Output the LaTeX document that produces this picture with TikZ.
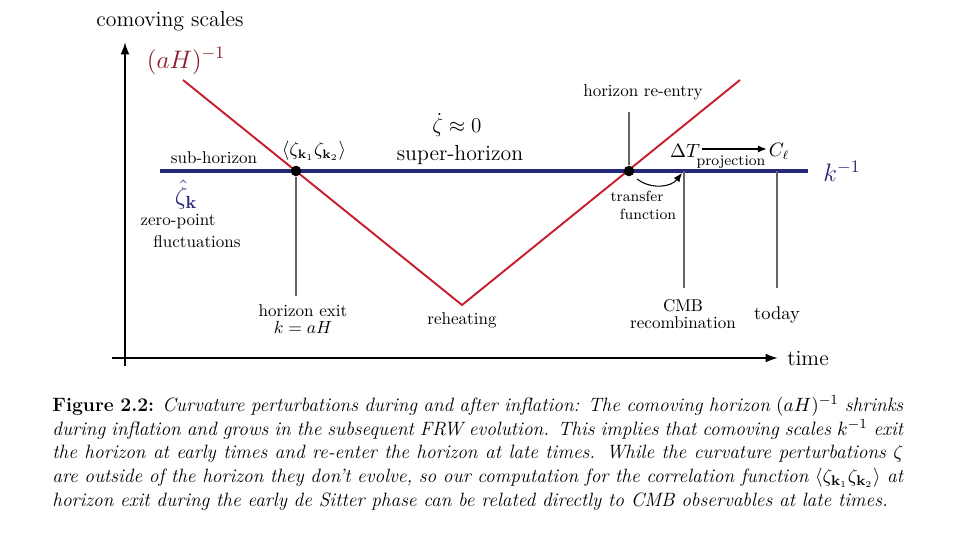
\documentclass[tikz,border=0pt]{standalone}
\usepackage{amsmath}
\usetikzlibrary{arrows.meta}
\definecolor{horizred}{RGB}{200,30,45}
\definecolor{labelred}{RGB}{140,25,35}
\definecolor{scaleblue}{RGB}{38,38,122}
\definecolor{markgray}{RGB}{100,100,100}
\tikzset{
  lbl/.style={font=\fontsize{9.7}{11}\selectfont,inner sep=1pt},
  tinylbl/.style={font=\fontsize{8.4}{10}\selectfont,inner sep=1pt},
  biglbl/.style={font=\fontsize{12.4}{14}\selectfont,inner sep=1pt},
  hugelbl/.style={font=\fontsize{14.5}{16}\selectfont,inner sep=1pt},
  axis/.style={line width=1.1pt,-{Latex[length=7pt,width=5pt]}},
  marker/.style={markgray,line width=0.8pt},
  dot/.style={circle,fill=black,inner sep=0pt,minimum size=6pt},
}
\begin{document}
\begin{tikzpicture}[x=0.02cm,y=-0.02cm]
  \useasboundingbox (0,0) rectangle (971,534);
  % axes
  \coordinate (yfoot) at (125,366);
  \coordinate (ytip) at (125,42);
  \coordinate (xfoot) at (112,358);
  \coordinate (xtip) at (778,358);
  \draw[axis] (yfoot) -- (ytip);
  \draw[axis] (xfoot) -- (xtip);
  \node[biglbl] (yname) at (170,21) {comoving scales};
  \node[biglbl] (xname) at (808,358) {time};

  % comoving horizon
  \coordinate (hstart) at (183,80);
  \coordinate (reheat) at (462,305);
  \coordinate (hend) at (740,80);
  \draw[horizred,line width=1.1pt] (hstart) -- (reheat) -- (hend);
  \node[hugelbl,labelred] (hlabel) at (186,61) {$(aH)^{-1}$};

  % comoving scale
  \coordinate (kstart) at (160,171);
  \coordinate (kend) at (808,171);
  \draw[scaleblue,line width=2pt] (kstart) -- (kend);
  \node[hugelbl,scaleblue] (klabel) at (842,171) {$k^{-1}$};

  % crossings
  \node[dot] (exit) at (296,171) {};
  \node[dot] (entry) at (629,171) {};
  \coordinate (exitfoot) at (296,296);
  \coordinate (entrytop) at (629,112);
  \coordinate (cmbfoot) at (684,288);
  \coordinate (cmbtop) at (684,171);
  \coordinate (todayfoot) at (777,288);
  \coordinate (todaytop) at (777,171);
  \draw[marker] (exit) -- (exitfoot);
  \draw[marker] (entry) -- (entrytop);
  \draw[marker] (cmbtop) -- (cmbfoot);
  \draw[marker] (todaytop) -- (todayfoot);

  % labels
  \node[lbl] (sub) at (214,158) {sub-horizon};
  \node[hugelbl,scaleblue] (zhat) at (186,195) {$\hat\zeta_{\mathbf{k}}$};
  \node[lbl] (zp) at (178,222) {zero-point};
  \node[lbl] (fl) at (197,242) {fluctuations};
  \node[lbl,font=\fontsize{10.5}{12}\selectfont] (corr) at (314,151) {$\langle\zeta_{\mathbf{k}_1}\zeta_{\mathbf{k}_2}\rangle$};
  \node[biglbl] (frozen) at (457,125) {$\dot\zeta\approx 0$};
  \node[biglbl] (super) at (460,155) {super-horizon};
  \node[lbl,align=center] (exitlbl) at (303,319) {horizon exit\\[-1pt]$k=aH$};
  \node[lbl] (rehlbl) at (462,320) {reheating};
  \node[lbl] (entrylbl) at (643,92) {horizon re-entry};
  \node[tinylbl] (tf1) at (637,196) {transfer};
  \node[tinylbl] (tf2) at (648,214) {function};
  \node[lbl,align=center,font=\fontsize{9.7}{10}\selectfont] (cmblbl) at (683,314) {CMB\\recombination};
  \node[lbl,font=\fontsize{10.5}{12}\selectfont] (todaylbl) at (777,315) {today};
  \node[lbl,font=\fontsize{10.5}{12}\selectfont] (dT) at (685,151) {$\Delta T$};
  \node[lbl,font=\fontsize{10.5}{12}\selectfont] (cl) at (779,151) {$C_\ell$};
  \coordinate (pstart) at (702,149);
  \draw[-{Latex[length=5pt,width=4pt]},line width=0.6pt] (pstart) -- (cl.west |- pstart);
  \node[tinylbl] (proj) at (731,162) {projection};
  \coordinate (tfstart) at (637,179);
  \coordinate (tfend) at (682,173);
  \draw[-{Latex[length=5pt,width=4pt]},line width=0.6pt] (tfstart) to[bend right=45] (tfend);

  % caption
  \node[anchor=north west,inner sep=0pt,text width=17.02cm,align=justify,
        font=\fontsize{11}{13.5}\selectfont] (caption) at (52,395)
    {\textbf{Figure 2.2:} \textit{Curvature perturbations during and after inflation: The comoving horizon $(aH)^{-1}$ shrinks\linebreak
     during inflation and grows in the subsequent FRW evolution. This implies that comoving scales $k^{-1}$ exit\linebreak
     the horizon at early times and re-enter the horizon at late times. While the curvature perturbations $\zeta$\linebreak
     are outside of the horizon they don't evolve, so our computation for the correlation function $\langle\zeta_{\mathbf{k}_1}\zeta_{\mathbf{k}_2}\rangle$ at\linebreak
     horizon exit during the early de Sitter phase can be related directly to CMB observables at late times.}};
\end{tikzpicture}
\end{document}
